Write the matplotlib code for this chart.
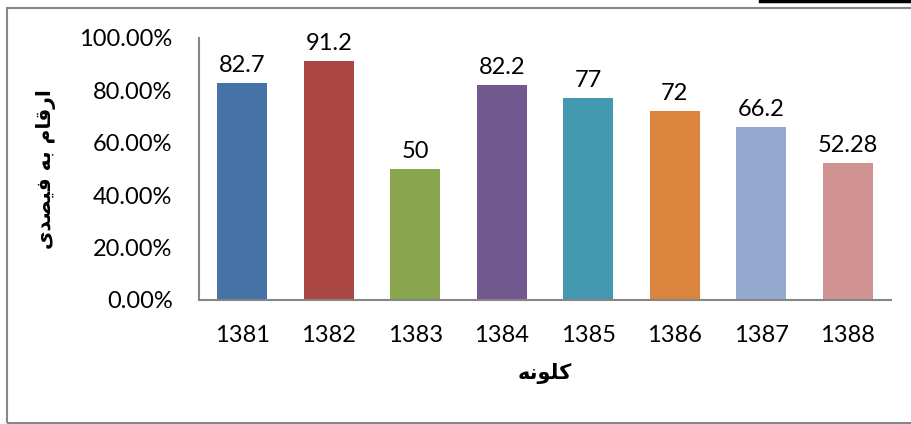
import matplotlib
matplotlib.use("Agg")
import matplotlib.pyplot as plt
from matplotlib.lines import Line2D
from matplotlib.patches import Rectangle
import numpy as np

# data
years = ["1381", "1382", "1383", "1384", "1385", "1386", "1387", "1388"]
values = [82.7, 91.2, 50, 82.2, 77, 72, 66.2, 52.28]
value_labels = ["82.7", "91.2", "50", "82.2", "77", "72", "66.2", "52.28"]
colors = ["#4572A7", "#AA4643", "#89A54E", "#71588F",
          "#4198AF", "#DB843D", "#93A9CF", "#D19392"]

# Arabic-script labels, written in shaped presentation forms, visual order
# (matplotlib does not shape/reorder right-to-left text by itself)
xlabel = "\uFEEA\uFEE7\uFEEE\uFEE0\uFB90"  # کلونه
ylabel = ("\uFBFC\uFEAA\uFEBC\uFBFF\uFED3 \uFEEA\uFE91 "
          "\uFEE1\uFE8E\uFED7\uFEAD\uFE8D")  # ارقام به فیصدی

plt.rcParams["font.family"] = ["Lato", "DejaVu Sans"]

fig = plt.figure(figsize=(9.12, 4.24), dpi=100)
ax = fig.add_axes([199/912, 1-300/424, (891-199)/912, (300-38)/424])

x = np.arange(len(years))
bars = ax.bar(x, np.array(values) / 100, width=0.58, color=colors)
ax.bar_label(bars, labels=value_labels, padding=5, fontsize=17)

ax.set_xlim(-0.5, len(years) - 0.5)
ax.set_ylim(0, 1)
ax.set_yticks(np.arange(0, 1.01, 0.2))
ax.set_yticklabels([f"{v*100:.2f}%" for v in np.arange(0, 1.01, 0.2)])
ax.set_xticks(x)
ax.set_xticklabels(years)
ax.tick_params(axis="both", length=0, labelsize=17)
ax.tick_params(axis="y", pad=19)
ax.tick_params(axis="x", pad=18)

for side in ["top", "right"]:
    ax.spines[side].set_visible(False)
for side in ["left", "bottom"]:
    ax.spines[side].set_color("#868686")
    ax.spines[side].set_linewidth(1.5)

fig.text(545/912, 1-373/424, xlabel, ha="center", va="center",
         fontsize=15, fontweight="bold", family=["DejaVu Sans"])
fig.text(46/912, 1-169/424, ylabel, ha="center", va="center", rotation=90,
         fontsize=14.5, fontweight="bold", family=["DejaVu Sans"])

# chart border
fig.add_artist(Rectangle((7.5/912, 1.5/424), 1.0, 415/424, transform=fig.transFigure,
                         fill=False, edgecolor="#878787", linewidth=1.5))
fig.add_artist(Line2D([760/912, 1], [1-1/424, 1-1/424], transform=fig.transFigure,
                      color="black", linewidth=2.5))

fig.savefig("out.png", dpi=100)
